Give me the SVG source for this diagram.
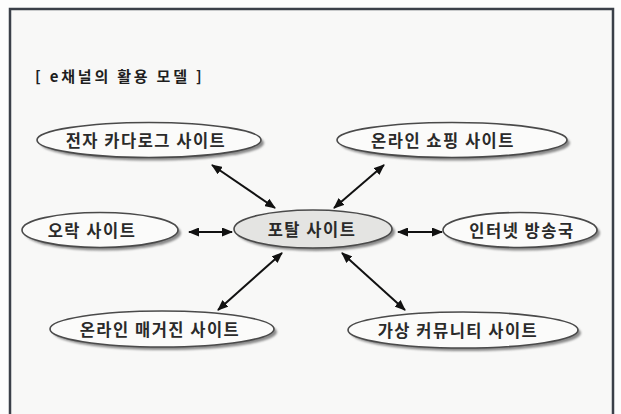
<svg xmlns="http://www.w3.org/2000/svg" width="621" height="414" viewBox="0 0 621 414">
  <defs>
    <marker id="ah" viewBox="0 0 11 9" refX="10" refY="4.5" markerWidth="11" markerHeight="9" markerUnits="userSpaceOnUse" orient="auto-start-reverse">
      <path d="M0,0 L11,4.5 L0,9 z" fill="#111"/>
    </marker>
    <filter id="blur" x="-10%" y="-30%" width="120%" height="160%">
      <feGaussianBlur stdDeviation="1.2"/>
    </filter>
  </defs>
  <style>
    .shadow { fill: #8a8a8a; filter: url(#blur); }
    .node { fill: #fbfbfa; stroke: #4a4a4a; stroke-width: 1.6; }
    .hub { fill: #e4e4e2; }
    .label { font-family: "Noto Sans CJK KR", "Noto Sans", sans-serif; font-weight: bold; font-size: 16.5px; fill: #2a2a2a; text-anchor: middle; dominant-baseline: central; letter-spacing: 1.5px; }
    .title { font-family: "Noto Sans CJK KR", "Noto Sans", sans-serif; font-weight: bold; font-size: 15px; fill: #1e1e1e; letter-spacing: 2.8px; }
    .conn { stroke: #111; stroke-width: 2; fill: none; marker-start: url(#ah); marker-end: url(#ah); }
  </style>
  <rect x="0" y="0" width="621" height="414" fill="#fdfdfd"/>
  <rect x="10" y="9" width="603" height="420" fill="#f8f8f7" stroke="#3b4049" stroke-width="2.5"/>

  <text class="title" x="35" y="82">[ e채널의 활용 모델 ]</text>

  <g id="connectors">
    <line class="conn" x1="212" y1="165" x2="275" y2="208"/>
    <line class="conn" x1="384" y1="165" x2="334" y2="208"/>
    <line class="conn" x1="189" y1="232" x2="232" y2="232"/>
    <line class="conn" x1="398" y1="232" x2="442" y2="232"/>
    <line class="conn" x1="282" y1="253" x2="218" y2="310"/>
    <line class="conn" x1="342" y1="253" x2="405" y2="310"/>
  </g>

  <g id="node-catalog">
    <ellipse class="shadow" cx="152" cy="143" rx="112" ry="17.5"/>
    <ellipse class="node" cx="149" cy="140" rx="112" ry="17.5"/>
    <text class="label" x="146" y="140">전자 카다로그 사이트</text>
  </g>
  <g id="node-shopping">
    <ellipse class="shadow" cx="455" cy="143" rx="115" ry="17.5"/>
    <ellipse class="node" cx="452" cy="140" rx="115" ry="17.5"/>
    <text class="label" x="443" y="140">온라인 쇼핑 사이트</text>
  </g>
  <g id="node-entertainment">
    <ellipse class="shadow" cx="103" cy="233" rx="78" ry="17.5"/>
    <ellipse class="node" cx="100" cy="230" rx="78" ry="17.5"/>
    <text class="label" x="92" y="230">오락 사이트</text>
  </g>
  <g id="node-portal">
    <ellipse class="shadow" cx="316" cy="232" rx="79" ry="19"/>
    <ellipse class="node hub" cx="313" cy="229" rx="79" ry="19"/>
    <text class="label" x="312" y="229">포탈 사이트</text>
  </g>
  <g id="node-broadcast">
    <ellipse class="shadow" cx="523" cy="233" rx="77" ry="17.5"/>
    <ellipse class="node" cx="520" cy="230" rx="77" ry="17.5"/>
    <text class="label" x="522" y="230">인터넷 방송국</text>
  </g>
  <g id="node-magazine">
    <ellipse class="shadow" cx="165" cy="332" rx="112" ry="18"/>
    <ellipse class="node" cx="162" cy="329" rx="112" ry="18"/>
    <text class="label" x="160" y="329">온라인 매거진 사이트</text>
  </g>
  <g id="node-community">
    <ellipse class="shadow" cx="466" cy="333" rx="115" ry="18"/>
    <ellipse class="node" cx="463" cy="330" rx="115" ry="18"/>
    <text class="label" x="458" y="330">가상 커뮤니티 사이트</text>
  </g>
</svg>
